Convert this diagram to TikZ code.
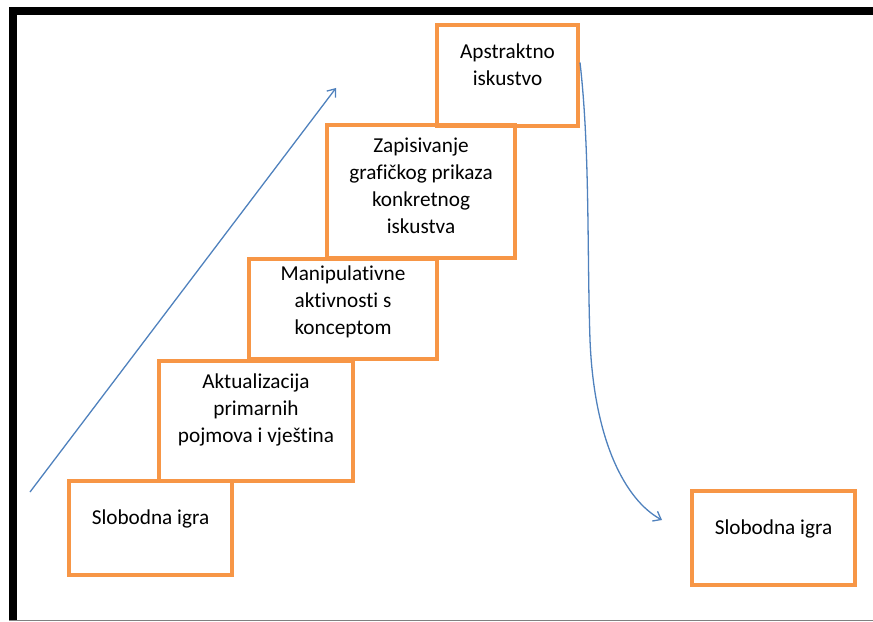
\documentclass[tikz,border=0pt]{standalone}
\usepackage{fontspec}
\setmainfont{Carlito}[Ligatures=NoCommon]
\usetikzlibrary{arrows.meta}
\begin{document}
\begin{tikzpicture}[x=0.025cm,y=-0.025cm,
	stepbox/.style={draw=stepor, line width=4*\px, minimum width=#1*\px},
	steptext/.style={align=center, font=\fontsize{15.1}{19.3}\selectfont, inner sep=0pt},
	flow/.style={draw=flowblue, line width=1.3*\px, -{Straight Barb[length=7*\px, width=11*\px]}}]
	% --- Parameters ---
	\def\px{0.025cm}    % one pixel of the reference
	\definecolor{stepor}{RGB}{247,150,70}
	\definecolor{flowblue}{RGB}{79,129,189}
	\useasboundingbox (0,0) rectangle (873,622);
	% --- Frame (left and top bars, thin bottom line) ---
	\fill[black] (9,7) rectangle (873,15);
	\fill[black] (9,7) rectangle (17,620);
	\draw[gray, line width=1.5*\px] (9,620.5) -- (873,620.5);
	% --- Steps, from bottom to top ---
	\node[stepbox=163, minimum height=94*\px]  (igra)   at (150.5,528) {};
	\node[stepbox=194, minimum height=120*\px] (aktual) at (256,421)   {};
	\node[stepbox=188, minimum height=100*\px] (manip)  at (343,309)   {};
	\node[stepbox=188, minimum height=133*\px] (zapis)  at (421,191.5) {};
	\node[stepbox=141, minimum height=101*\px] (apstr)  at (507.5,75.5) {};
	% free play again, on the right
	\node[stepbox=163, minimum height=94*\px]  (igrab)  at (773.5,538) {};
	% --- Texts (set above the middle of each box) ---
	\node[steptext] (tigra)   at ([yshift=9*\px]igra.center)    {Slobodna igra};
	\node[steptext] (taktual) at ([yshift=11*\px]aktual.center) {Aktualizacija\\primarnih\\pojmova i vještina};
	\node[steptext] (tmanip)  at ([yshift=7*\px]manip.center)   {Manipulativne\\aktivnosti s\\konceptom};
	\node[steptext] (tzapis)  at ([yshift=6*\px]zapis.center)   {Zapisivanje\\grafičkog prikaza\\konkretnog\\iskustva};
	\node[steptext] (tapstr)  at ([yshift=11*\px]apstr.center)  {Apstraktno\\iskustvo};
	\node[steptext] (tigrab)  at ([yshift=9*\px]igrab.center)   {Slobodna igra};
	% --- Rising arrow ---
	\coordinate (risestart) at (30,492);
	\coordinate (riseend)   at (336,88);
	\draw[flow] (risestart) -- (riseend);
	% --- Falling curve back to free play ---
	\coordinate (fallstart) at ([yshift=13*\px]apstr.east);
	\coordinate (fallmid)   at (590,340);
	\coordinate (fallend)   at (662,520);
	\draw[flow] (fallstart) .. controls (590,150) and (587,250) .. (fallmid)
		.. controls (594,440) and (625,500) .. (fallend);
\end{tikzpicture}
\end{document}
